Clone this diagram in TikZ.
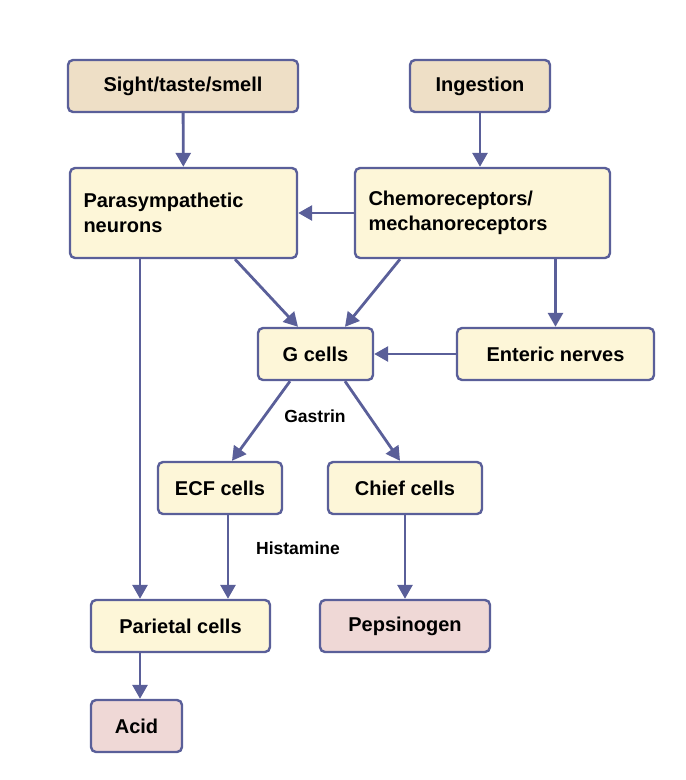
\documentclass[tikz,border=0pt]{standalone}
\usepackage{fontspec}
\setmainfont{Liberation Sans}
\usetikzlibrary{arrows.meta}
\definecolor{bd}{HTML}{5A5F99}
\definecolor{tan}{HTML}{EEDFC6}
\definecolor{cream}{HTML}{FDF6D8}
\definecolor{pink}{HTML}{EFD8D6}
\begin{document}
\begin{tikzpicture}[x=1pt,y=-1pt,
  box/.style={draw=bd,line width=2.4pt,rounded corners=5pt,inner sep=0pt,font=\fontsize{20}{25}\selectfont\bfseries,align=left},
  lab/.style={font=\fontsize{17.5}{20}\selectfont\bfseries},
  ar/.style={draw=bd,line width=2.8pt,-{Triangle[length=14pt,width=15pt]}}]
\useasboundingbox (0,0) rectangle (686,780);
\node[box,fill=tan,minimum width=230pt,minimum height=52pt] (sight) at (183,86) {Sight/taste/smell};
\node[box,fill=tan,minimum width=140pt,minimum height=52pt] (ing) at (480,86) {Ingestion};
\node[box,fill=cream,minimum width=227pt,minimum height=90pt,text width=200pt] (para) at (183.5,213) {Parasympathetic\\neurons};
\node[box,fill=cream,minimum width=255pt,minimum height=90pt,text width=228pt] (chemo) at (482.5,213) {Chemoreceptors/\\mechanoreceptors};
\node[box,fill=cream,minimum width=115pt,minimum height=52pt] (g) at (315.5,354) {G cells};
\node[box,fill=cream,minimum width=197pt,minimum height=52pt] (ent) at (555.5,354) {Enteric nerves};
\node[box,fill=cream,minimum width=124pt,minimum height=52pt] (ecf) at (220,488) {ECF cells};
\node[box,fill=cream,minimum width=154pt,minimum height=52pt] (chief) at (405,488) {Chief cells};
\node[box,fill=cream,minimum width=179pt,minimum height=52pt] (par) at (180.5,626) {Parietal cells};
\node[box,fill=pink,minimum width=170pt,minimum height=52pt] (pep) at (405,626) {Pepsinogen};
\node[box,fill=pink,minimum width=91pt,minimum height=52pt] (acid) at (136.5,726) {Acid};
\node[lab] (gastrin) at (315,416) {Gastrin};
\node[lab] (hist) at (298,548) {Histamine};
\draw[ar] (sight) -- (para);
\draw[ar] (ing.south) -- (ing.south|-chemo.north);
\draw[ar] (chemo) -- (para);
\draw[ar] (para.south -| 235,0) -- (g.north -| 298,0);
\draw[ar] (chemo.south -| 400,0) -- (g.north -| 345,0);
\draw[ar] (chemo.south -| ent) -- (ent);
\draw[ar] (ent) -- (g);
\draw[ar] (g.south -| 290,0) -- (ecf.north -| 232,0);
\draw[ar] (g.south -| 345,0) -- (chief.north -| 400,0);
\draw[ar] (ecf.south -| 228,0) -- (par.north -| 228,0);
\draw[ar] (para.south -| 140,0) -- (par.north -| 140,0);
\draw[ar] (chief) -- (pep);
\draw[ar] (par.south -| 140,0) -- (acid.north -| 140,0);
\end{tikzpicture}
\end{document}
